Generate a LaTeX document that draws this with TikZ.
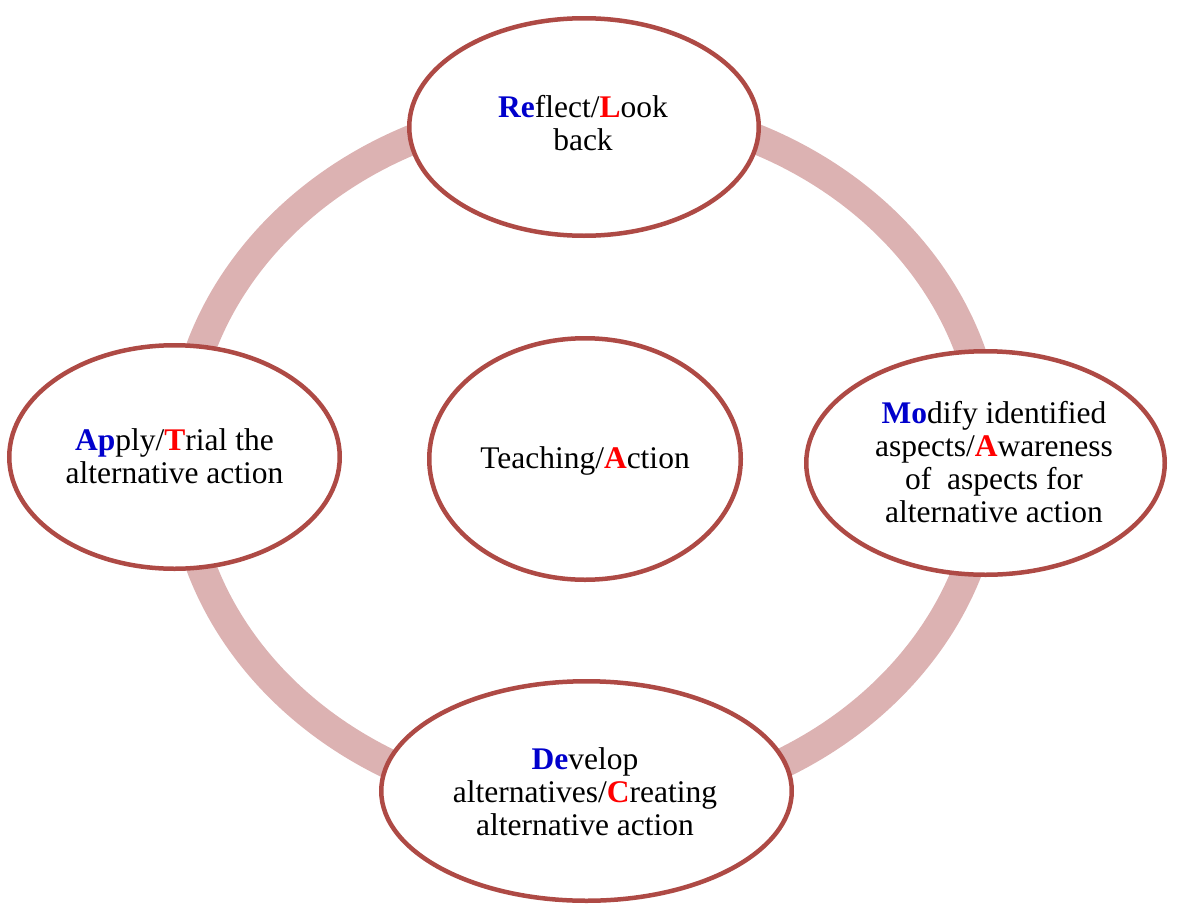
\documentclass[tikz,border=0pt]{standalone}
\usepackage{fontspec}
\setmainfont{Liberation Serif}
\usetikzlibrary{shapes.geometric}
\definecolor{ringpink}{RGB}{220,178,178}
\definecolor{rim}{RGB}{174,74,69}
\definecolor{initblue}{RGB}{0,0,204}
\definecolor{initred}{RGB}{255,0,0}
\newcommand{\hlblue}[1]{\textcolor{initblue}{\textbf{#1}}}
\newcommand{\hlred}[1]{\textcolor{initred}{\textbf{#1}}}
\begin{document}
\begin{tikzpicture}[x=1pt,y=-1pt,
  stage/.style={ellipse, draw=rim, line width=4.5pt, fill=white, inner sep=0pt},
  stagetext/.style={font=\fontsize{31.5}{33}\selectfont, align=center, inner sep=0pt}]
  \useasboundingbox (0,0) rectangle (1181,905);

  % the cycle ring behind the stages
  \coordinate (hub) at (585,457);
  \draw[ringpink, line width=30pt] (hub) ellipse [x radius=404, y radius=351];

  % stages
  \node[stage, minimum width=349.5pt, minimum height=217.5pt] (reflect) at (584,127) {};
  \node[stage, minimum width=330.5pt, minimum height=223.5pt] (apply)   at (174.5,457) {};
  \node[stage, minimum width=311.5pt, minimum height=241.5pt] (teach)   at (585,459) {};
  \node[stage, minimum width=358.5pt, minimum height=223.5pt] (modify)  at (985.5,463) {};
  \node[stage, minimum width=410.5pt, minimum height=219.5pt] (develop) at (586.5,791) {};

  % stage texts
  \node[stagetext] (reflecttext) at (583,123.3) {\hlblue{Re}flect/\hlred{L}ook\\back};
  \node[stagetext] (applytext)   at (174.5,455.8) {\hlblue{Ap}ply/\hlred{T}rial the\\alternative action};
  \node[stagetext] (teachtext)   at (585,460.6) {Teaching/\hlred{A}ction};
  \node[stagetext] (modifytext)  at (994,461.8) {\hlblue{Mo}dify identified\\aspects/\hlred{A}wareness\\of~~aspects for\\alternative action};
  \node[stagetext] (developtext) at (585,791.3) {\hlblue{De}velop\\alternatives/\hlred{C}reating\\alternative action};
\end{tikzpicture}
\end{document}
